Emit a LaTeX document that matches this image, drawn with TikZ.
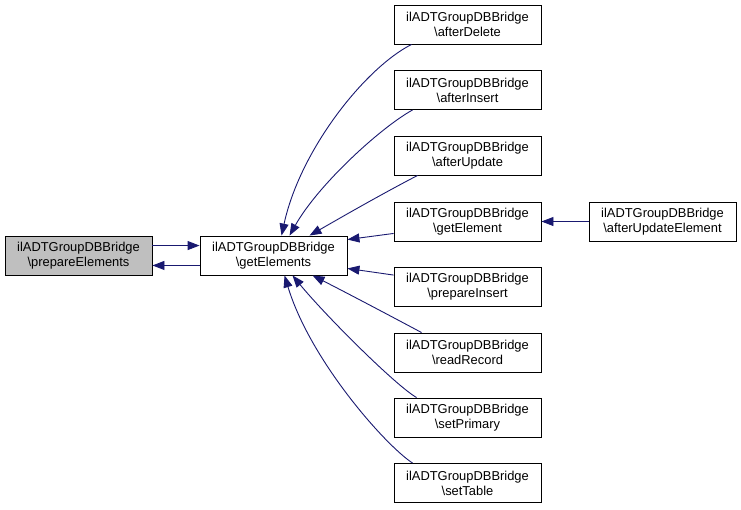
\documentclass[tikz,border=0pt]{standalone}
\usepackage{fontspec}
\setmainfont{Liberation Sans}
\usetikzlibrary{arrows.meta}
\definecolor{edgeblue}{HTML}{191970}
\definecolor{nodegray}{HTML}{BFBFBF}
\begin{document}
\begin{tikzpicture}[x=1pt,y=-1pt,
  box/.style={draw=black,line width=0.9pt,fill=white,minimum width=147pt,minimum height=39pt,inner sep=0pt,align=center,font=\fontsize{12.9}{15}\selectfont},
  edge/.style={draw=edgeblue,line width=0.9pt,-{Triangle[length=12pt,width=9pt]}}]
\useasboundingbox (0,0) rectangle (741,509);
\node[box,fill=nodegray] (pe) at (78.5,255.5) {ilADTGroupDBBridge\\\textbackslash prepareElements};
\node[box] (ge) at (273.5,255.5) {ilADTGroupDBBridge\\\textbackslash getElements};
\node[box] (ad) at (467.5,24.5) {ilADTGroupDBBridge\\\textbackslash afterDelete};
\node[box] (ai) at (467.5,90) {ilADTGroupDBBridge\\\textbackslash afterInsert};
\node[box] (au) at (467.5,155.5) {ilADTGroupDBBridge\\\textbackslash afterUpdate};
\node[box] (gt) at (467.5,221.5) {ilADTGroupDBBridge\\\textbackslash getElement};
\node[box] (pi) at (467.5,287) {ilADTGroupDBBridge\\\textbackslash prepareInsert};
\node[box] (rr) at (467.5,352.5) {ilADTGroupDBBridge\\\textbackslash readRecord};
\node[box] (sp) at (467.5,417.5) {ilADTGroupDBBridge\\\textbackslash setPrimary};
\node[box] (st) at (467.5,483) {ilADTGroupDBBridge\\\textbackslash setTable};
\node[box] (aue) at (662.5,221.5) {ilADTGroupDBBridge\\\textbackslash afterUpdateElement};
% prepareElements <-> getElements
\draw[edge] ([yshift=-10pt]pe.north east) -- ([yshift=-10pt]ge.north west);
\draw[edge] ([yshift=10pt]ge.south west) -- ([yshift=10pt]pe.south east);
% upper callers
\draw[edge] ([xshift=18pt]ad.south west) .. controls (365,68) and (300,150) .. ([xshift=82pt]ge.north west);
\draw[edge] ([xshift=19pt]ai.south west) .. controls (380,128) and (318,185) .. ([xshift=90pt]ge.north west);
\draw[edge] ([xshift=24pt]au.south west) .. controls (380,195) and (340,218) .. ([xshift=110pt]ge.north west);
\draw[edge] ([yshift=8pt]gt.south west) -- ([yshift=-4pt]ge.north east);
% lower callers
\draw[edge] ([yshift=-8pt]pi.north west) -- ([yshift=7pt]ge.south east);
\draw[edge] ([xshift=28pt]rr.north west) .. controls (385,313) and (345,292) .. ([xshift=113pt]ge.south west);
\draw[edge] ([xshift=23pt]sp.north west) .. controls (395,385) and (325,315) .. ([xshift=93pt]ge.south west);
\draw[edge] ([xshift=19pt]st.north west) .. controls (385,445) and (310,360) .. ([xshift=85pt]ge.south west);
% getElement <- afterUpdateElement
\draw[edge] (aue.west) -- (gt.east);
\end{tikzpicture}
\end{document}
